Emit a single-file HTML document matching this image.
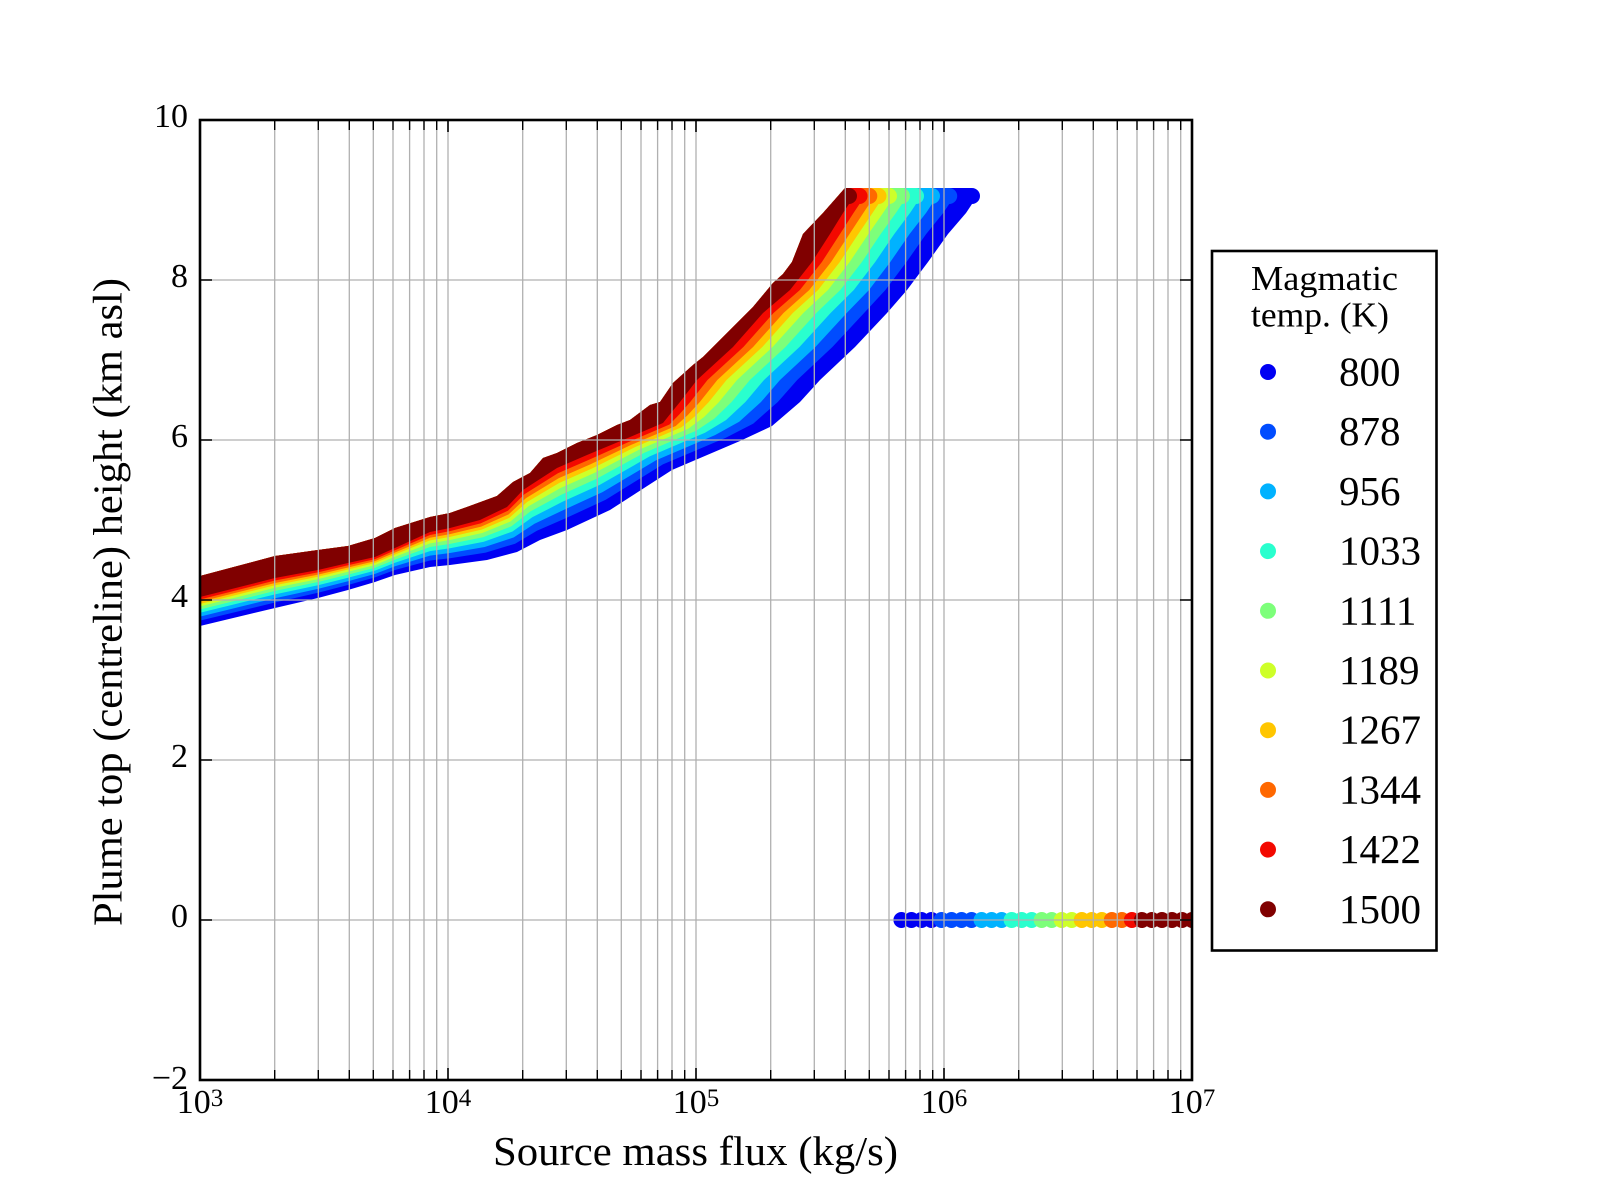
<!DOCTYPE html>
<html>
<head>
<meta charset="utf-8">
<style>
html,body{margin:0;padding:0;background:#fff;}
svg{display:block;}
text{font-family:"Liberation Serif","DejaVu Serif",serif;fill:#000;}
</style>
</head>
<body>
<svg id="chart" width="1600" height="1200" viewBox="0 0 1600 1200" xmlns="http://www.w3.org/2000/svg">
<defs>
<clipPath id="plotclip"><rect x="200" y="120" width="992" height="960"/></clipPath>
</defs>
<rect x="0" y="0" width="1600" height="1200" fill="#fff"/>
<g clip-path="url(#plotclip)">
  <g id="band"></g>
  <g id="zero"></g>
</g>
<!-- grid -->
<path fill="none" stroke="#b0b0b0" stroke-width="1.3" d="M274.7 120V1080M318.3 120V1080M349.3 120V1080M373.3 120V1080M393 120V1080M409.6 120V1080M424 120V1080M436.7 120V1080M448 120V1080M522.7 120V1080M566.3 120V1080M597.3 120V1080M621.3 120V1080M641 120V1080M657.6 120V1080M672 120V1080M684.7 120V1080M696 120V1080M770.7 120V1080M814.3 120V1080M845.3 120V1080M869.3 120V1080M889 120V1080M905.6 120V1080M920 120V1080M932.7 120V1080M944 120V1080M1018.7 120V1080M1062.3 120V1080M1093.3 120V1080M1117.3 120V1080M1137 120V1080M1153.6 120V1080M1168 120V1080M1180.7 120V1080M200 280H1192M200 440H1192M200 600H1192M200 760H1192M200 920H1192"/>
<!-- minor ticks -->
<path fill="none" stroke="#000" stroke-width="1.4" d="M274.7 1080V1070M274.7 120V130M318.3 1080V1070M318.3 120V130M349.3 1080V1070M349.3 120V130M373.3 1080V1070M373.3 120V130M393 1080V1070M393 120V130M409.6 1080V1070M409.6 120V130M424 1080V1070M424 120V130M436.7 1080V1070M436.7 120V130M522.7 1080V1070M522.7 120V130M566.3 1080V1070M566.3 120V130M597.3 1080V1070M597.3 120V130M621.3 1080V1070M621.3 120V130M641 1080V1070M641 120V130M657.6 1080V1070M657.6 120V130M672 1080V1070M672 120V130M684.7 1080V1070M684.7 120V130M770.7 1080V1070M770.7 120V130M814.3 1080V1070M814.3 120V130M845.3 1080V1070M845.3 120V130M869.3 1080V1070M869.3 120V130M889 1080V1070M889 120V130M905.6 1080V1070M905.6 120V130M920 1080V1070M920 120V130M932.7 1080V1070M932.7 120V130M1018.7 1080V1070M1018.7 120V130M1062.3 1080V1070M1062.3 120V130M1093.3 1080V1070M1093.3 120V130M1117.3 1080V1070M1117.3 120V130M1137 1080V1070M1137 120V130M1153.6 1080V1070M1153.6 120V130M1168 1080V1070M1168 120V130M1180.7 1080V1070M1180.7 120V130"/>
<!-- major ticks -->
<path fill="none" stroke="#000" stroke-width="1.6" d="M448 1080V1068M448 120V132M696 1080V1068M696 120V132M944 1080V1068M944 120V132M200 280H212M1192 280H1180M200 440H212M1192 440H1180M200 600H212M1192 600H1180M200 760H212M1192 760H1180M200 920H212M1192 920H1180"/>
<!-- spines -->
<rect x="200" y="120" width="992" height="960" fill="none" stroke="#000" stroke-width="2.6"/>

<!-- y tick labels -->
<g font-size="34" text-anchor="end">
<text x="188" y="127">10</text>
<text x="188" y="287">8</text>
<text x="188" y="447">6</text>
<text x="188" y="607">4</text>
<text x="188" y="767">2</text>
<text x="188" y="927">0</text>
<text x="188" y="1089">−2</text>
</g>
<!-- x tick labels -->
<g font-size="34" text-anchor="middle">
<text x="200" y="1113">10<tspan font-size="25" dy="-7">3</tspan></text>
<text x="448" y="1113">10<tspan font-size="25" dy="-7">4</tspan></text>
<text x="696" y="1113">10<tspan font-size="25" dy="-7">5</tspan></text>
<text x="944" y="1113">10<tspan font-size="25" dy="-7">6</tspan></text>
<text x="1192" y="1113">10<tspan font-size="25" dy="-7">7</tspan></text>
</g>
<!-- axis labels -->
<text x="493" y="1165" font-size="41" textLength="405" lengthAdjust="spacingAndGlyphs">Source mass flux (kg/s)</text>
<text transform="translate(121.5,926) rotate(-90)" x="0" y="0" font-size="41" textLength="648" lengthAdjust="spacingAndGlyphs">Plume top (centreline) height (km asl)</text>

<!-- legend -->
<rect x="1212" y="251" width="224.5" height="699.5" fill="#fff" stroke="#000" stroke-width="2.6"/>
<text x="1251" y="290" font-size="35" textLength="147" lengthAdjust="spacingAndGlyphs">Magmatic</text>
<text x="1251" y="326.5" font-size="35" textLength="138" lengthAdjust="spacingAndGlyphs">temp. (K)</text>
<g>
<circle cx="1268" cy="372" r="8" fill="#0000f3"/>
<circle cx="1268" cy="431.7" r="8" fill="#004cff"/>
<circle cx="1268" cy="491.4" r="8" fill="#00b2ff"/>
<circle cx="1268" cy="551.1" r="8" fill="#29ffce"/>
<circle cx="1268" cy="610.8" r="8" fill="#7dff7a"/>
<circle cx="1268" cy="670.5" r="8" fill="#ceff29"/>
<circle cx="1268" cy="730.2" r="8" fill="#ffc600"/>
<circle cx="1268" cy="789.9" r="8" fill="#ff6800"/>
<circle cx="1268" cy="849.6" r="8" fill="#f30900"/>
<circle cx="1268" cy="909.3" r="8" fill="#800000"/>
</g>
<g font-size="41" text-anchor="start">
<text x="1339" y="385.5">800</text>
<text x="1339" y="445.2">878</text>
<text x="1339" y="504.9">956</text>
<text x="1339" y="564.6">1033</text>
<text x="1339" y="624.3">1111</text>
<text x="1339" y="684">1189</text>
<text x="1339" y="743.7">1267</text>
<text x="1339" y="803.4">1344</text>
<text x="1339" y="863.1">1422</text>
<text x="1339" y="922.8">1500</text>
</g>
</svg>
<script>
(function(){
var NS='http://www.w3.org/2000/svg';
var T=[[200,576],[230,568],[275,556],[318,550],[348,546],[375,538],[395,528],[430,517],[450,513],[467,507],[497,496],[513,482],[530,473],[543,458],[557,453],[577,443],[597,435],[617,425],[630,420],[650,405],[660,402],[673,383],[693,365],[703,357],[713,347],[723,337],[733,327],[743,317],[753,307],[763,295],[773,283],[783,274],[792,262],[803,234],[823,213],[838,196],[845,188]];
var P=[
[[200,597],[200,626]],
[[275,578],[275,608]],
[[318,570],[318,598]],
[[348,563],[348,590]],
[[375,557],[375,582]],
[[395,548],[395,575]],
[[430,532],[430,567]],
[[450,528],[450,565]],
[[480,520],[487,560]],
[[507,507],[517,552]],
[[523,490],[540,540]],
[[557,468],[567,530]],
[[587,455],[610,510]],
[[623,440],[672,470]],
[[663,423],[740,441]],
[[671,413],[772,426]],
[[680,402],[800,402]],
[[697,380],[820,380]],
[[733,347],[855,347]],
[[763,313],[887,313]],
[[790,290],[907,290]],
[[812,262],[928,262]],
[[830,234],[948,234]],
[[843,213],[966,213]],
[[849,204],[972,204]]
];
var F=[1,0.815,0.675,0.545,0.43,0.325,0.24,0.165,0.085,0];
var C=['#0000f3','#004cff','#00b2ff','#29ffce','#7dff7a','#ceff29','#ffc600','#ff6800','#f30900','#800000'];
var g=document.getElementById('band');
for(var k=0;k<10;k++){
  var f=F[k];
  var B=P.map(function(p){return [p[0][0]+(p[1][0]-p[0][0])*f, p[0][1]+(p[1][1]-p[0][1])*f];});
  var end=B[B.length-1];
  var d='M'+T.map(function(p){return p[0]+','+p[1];}).join(' L');
  d+=' L'+end[0].toFixed(1)+',188 A8,8 0 0 1 '+end[0].toFixed(1)+',204';
  for(var i=B.length-2;i>=0;i--){ d+=' L'+B[i][0].toFixed(1)+','+B[i][1].toFixed(1); }
  d+=' Z';
  var el=document.createElementNS(NS,'path');
  el.setAttribute('d',d);
  el.setAttribute('fill',C[k]);
  g.appendChild(el);
}
var ranges=[[70,73,0],[74,77,1],[78,80,2],[81,83,3],[84,85,4],[86,87,5],[88,90,6],[91,92,7],[93,93,8],[94,99,9]];
var z=document.getElementById('zero');
ranges.forEach(function(r){
  for(var i=r[0];i<=r[1];i++){
    var c=document.createElementNS(NS,'circle');
    c.setAttribute('cx',(200+i*992/99).toFixed(2));
    c.setAttribute('cy','920');
    c.setAttribute('r','8');
    c.setAttribute('fill',C[r[2]]);
    z.appendChild(c);
  }
});
})();
</script>
</body>
</html>
